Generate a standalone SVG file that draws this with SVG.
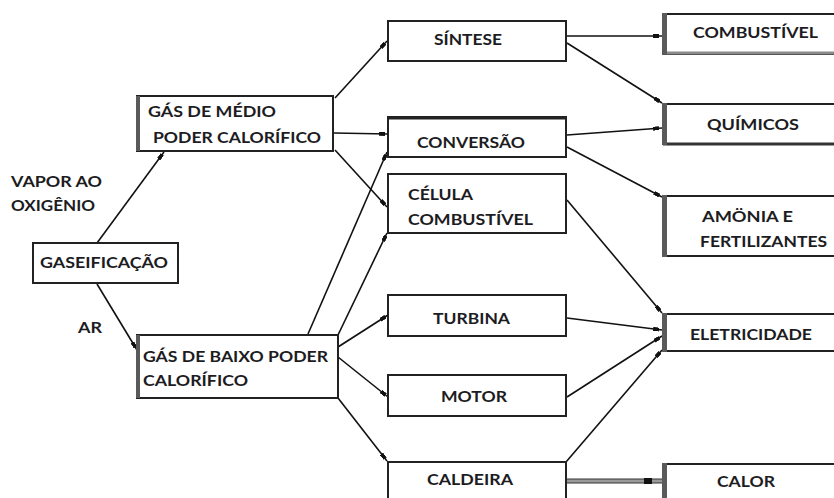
<svg xmlns="http://www.w3.org/2000/svg" width="834" height="498" viewBox="0 0 834 498">
<style>
.t{font-family:Lato,"Liberation Sans",Arial,sans-serif;font-weight:bold;font-size:16px;fill:#1c1c22}
.b{fill:#fff;stroke:#222;stroke-width:2}
.bar{fill:#5a5a5a}
.sh{stroke:#8a8a8a;stroke-width:3;fill:none}
.c{stroke:#111;stroke-width:1.6;fill:none;marker-end:url(#m)}
</style>
<defs>
<marker id="m" viewBox="0 0 6 4" refX="9" refY="2" markerWidth="6" markerHeight="4" markerUnits="userSpaceOnUse" orient="auto">
<rect x="0" y="0" width="6" height="4" fill="#111"/>
</marker>
</defs>
<rect width="834" height="498" fill="#fff"/>
<g id="connectors">
<line class="c" x1="97" y1="243" x2="164" y2="152"/>
<line class="c" x1="97" y1="284" x2="137" y2="350"/>
<line class="c" x1="335" y1="98" x2="387" y2="41"/>
<line class="c" x1="334" y1="133" x2="388" y2="134"/>
<line class="c" x1="335" y1="150" x2="387" y2="207"/>
<line class="c" x1="308" y1="334" x2="387" y2="152"/>
<line class="c" x1="338" y1="335" x2="387" y2="233"/>
<line class="c" x1="338" y1="347" x2="388" y2="315"/>
<line class="c" x1="338" y1="357" x2="388" y2="397"/>
<line class="c" x1="338" y1="398" x2="387" y2="461"/>
<line class="c" x1="567" y1="36" x2="662" y2="36"/>
<line class="c" x1="567" y1="43" x2="662" y2="103"/>
<line class="c" x1="567" y1="135" x2="662" y2="128"/>
<line class="c" x1="567" y1="147" x2="662" y2="197"/>
<line class="c" x1="567" y1="200" x2="662" y2="313"/>
<line class="c" x1="567" y1="318" x2="662" y2="330"/>
<line class="c" x1="567" y1="397" x2="662" y2="336"/>
<line class="c" x1="566" y1="462" x2="662" y2="350"/>
<line x1="566" y1="481" x2="662" y2="481" stroke="#9a9a9a" stroke-width="4"/>
<line x1="566" y1="479" x2="662" y2="479" stroke="#333" stroke-width="1"/>
<line x1="566" y1="483" x2="662" y2="483" stroke="#333" stroke-width="1"/>
<rect x="644" y="478" width="8" height="6" fill="#111"/>
</g>
<g id="vapor-label"><text class="t" x="11" y="187" textLength="91" lengthAdjust="spacingAndGlyphs">VAPOR AO</text><text class="t" x="11" y="211" textLength="84" lengthAdjust="spacingAndGlyphs">OXIGÊNIO</text></g>
<g id="ar-label"><text class="t" x="78" y="333" textLength="24" lengthAdjust="spacingAndGlyphs">AR</text></g>
<g id="gaseificacao"><rect class="b" x="33" y="243" width="145" height="40"/><text class="t" x="40" y="268" textLength="128" lengthAdjust="spacingAndGlyphs">GASEIFICAÇÃO</text></g>
<g id="gas-medio"><rect class="b" x="137" y="96" width="196" height="55"/><rect class="bar" x="136" y="96" width="4" height="55"/><text class="t" x="148" y="117" textLength="128" lengthAdjust="spacingAndGlyphs">GÁS DE MÉDIO</text><text class="t" x="153" y="143" textLength="168" lengthAdjust="spacingAndGlyphs">PODER CALORÍFICO</text></g>
<g id="gas-baixo"><rect class="b" x="137" y="335" width="201" height="63"/><rect class="bar" x="136" y="335" width="4" height="63"/><text class="t" x="143" y="362" textLength="185" lengthAdjust="spacingAndGlyphs">GÁS DE BAIXO PODER</text><text class="t" x="143" y="386" textLength="105" lengthAdjust="spacingAndGlyphs">CALORÍFICO</text></g>
<g id="sintese"><rect class="b" x="388" y="21" width="178" height="40"/><text class="t" x="434" y="45" textLength="68" lengthAdjust="spacingAndGlyphs">SÍNTESE</text></g>
<g id="conversao"><rect class="b" x="388" y="117" width="178" height="40"/><line x1="388" y1="118" x2="566" y2="118" stroke="#222" stroke-width="3"/><text class="t" x="417" y="148" textLength="108" lengthAdjust="spacingAndGlyphs">CONVERSÃO</text></g>
<g id="celula"><rect class="b" x="388" y="174" width="178" height="59"/><text class="t" x="408" y="200" textLength="65" lengthAdjust="spacingAndGlyphs">CÉLULA</text><text class="t" x="408" y="225" textLength="125" lengthAdjust="spacingAndGlyphs">COMBUSTÍVEL</text></g>
<g id="turbina"><rect class="b" x="388" y="295" width="178" height="41"/><text class="t" x="433" y="324" textLength="77" lengthAdjust="spacingAndGlyphs">TURBINA</text></g>
<g id="motor"><rect class="b" x="388" y="375" width="178" height="41"/><text class="t" x="441" y="402" textLength="66" lengthAdjust="spacingAndGlyphs">MOTOR</text></g>
<g id="caldeira"><rect class="b" x="388" y="462" width="178" height="45"/><text class="t" x="427" y="485" textLength="86" lengthAdjust="spacingAndGlyphs">CALDEIRA</text></g>
<g id="combustivel"><rect class="b" x="663" y="14" width="180" height="40"/><line class="sh" x1="663" y1="53" x2="843" y2="53"/><rect class="bar" x="662" y="13" width="5" height="42"/><text class="t" x="693" y="38" textLength="125" lengthAdjust="spacingAndGlyphs">COMBUSTÍVEL</text></g>
<g id="quimicos"><rect class="b" x="663" y="104" width="180" height="40"/><line x1="663" y1="144" x2="843" y2="144" stroke="#333" stroke-width="3"/><rect class="bar" x="662" y="103" width="5" height="42"/><text class="t" x="707" y="130" textLength="92" lengthAdjust="spacingAndGlyphs">QUÍMICOS</text></g>
<g id="amonia"><rect class="b" x="663" y="196" width="180" height="60"/><rect class="bar" x="662" y="195" width="5" height="62"/><text class="t" x="702" y="222" textLength="91" lengthAdjust="spacingAndGlyphs">AMÖNIA E</text><text class="t" x="700" y="247" textLength="127" lengthAdjust="spacingAndGlyphs">FERTILIZANTES</text></g>
<g id="eletricidade"><rect class="b" x="663" y="314" width="180" height="37"/><rect class="bar" x="662" y="313" width="5" height="39"/><text class="t" x="690" y="340" textLength="122" lengthAdjust="spacingAndGlyphs">ELETRICIDADE</text></g>
<g id="calor"><rect class="b" x="663" y="464" width="180" height="45"/><rect class="bar" x="662" y="463" width="5" height="40"/><text class="t" x="717" y="487" textLength="58" lengthAdjust="spacingAndGlyphs">CALOR</text></g>
</svg>
